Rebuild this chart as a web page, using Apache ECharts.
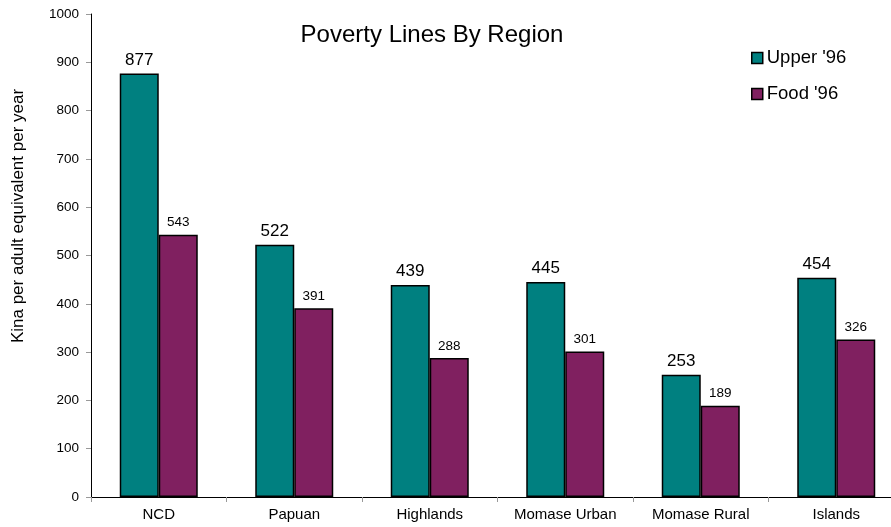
<!DOCTYPE html>
<html>
<head>
<meta charset="utf-8">
<script src="https://cdn.jsdelivr.net/npm/echarts@6/dist/echarts.min.js"></script>
<style>
  html, body { margin: 0; padding: 0; background: #fff; overflow: hidden; }
  #chart { width: 912px; height: 527px; }
</style>
</head>
<body>
<div id="chart"></div>
<script>
// Poverty lines per region (Kina per adult equivalent per year)
const regions = ['NCD', 'Papuan', 'Highlands', 'Momase Urban', 'Momase Rural', 'Islands'];
const upper96 = [877, 522, 439, 445, 253, 454];
const food96 = [543, 391, 288, 301, 189, 326];
const yTicks = { min: 0, max: 1000, step: 100 };

const FONT = 'Liberation Sans, Arial, sans-serif';
const chart = echarts.init(document.getElementById('chart'), null, { renderer: 'canvas' });

chart.setOption({
  animation: false,
  backgroundColor: '#ffffff',
  textStyle: { fontFamily: FONT },
  title: {
    text: 'Poverty Lines By Region',
    left: 427, top: 18, textAlign: 'center',
    textStyle: { fontFamily: FONT, fontSize: 24, fontWeight: 'normal', color: '#000' }
  },
  legend: {
    orient: 'vertical',
    left: 746, top: 42,
    itemWidth: 11, itemHeight: 11, itemGap: 14,
    icon: 'rect',
    itemStyle: { borderColor: '#000', borderWidth: 1.5 },
    textStyle: { fontFamily: FONT, fontSize: 18.5, lineHeight: 22, color: '#000', padding: [0, 0, 0, -1] },
    data: ["Upper '96", "Food '96"]
  },
  graphic: [{
    type: 'text',
    x: 18, y: 216,
    rotation: Math.PI / 2,
    style: {
      text: 'Kina per adult equivalent per year',
      font: '17px ' + FONT,
      fill: '#000',
      align: 'center',
      verticalAlign: 'middle'
    }
  }],
  grid: { left: 91, top: 14, width: 813, height: 483, containLabel: false },
  xAxis: {
    type: 'category',
    data: regions,
    axisLine: { lineStyle: { color: '#000', width: 1 } },
    axisTick: { show: true, alignWithLabel: false, length: 5, lineStyle: { color: '#999' } },
    axisLabel: { fontFamily: FONT, fontSize: 15, color: '#000', margin: 10, interval: 0 }
  },
  yAxis: {
    type: 'value',
    min: yTicks.min, max: yTicks.max, interval: yTicks.step,
    axisLine: { show: true, lineStyle: { color: '#000', width: 1 } },
    axisTick: { show: true, length: 5, lineStyle: { color: '#999' } },
    axisLabel: { fontFamily: FONT, fontSize: 13.5, color: '#000', margin: 12, formatter: v => String(v) },
    splitLine: { show: false }
  },
  series: [
    {
      name: "Upper '96",
      type: 'bar',
      data: upper96,
      barWidth: 39,
      barGap: '0%',
      itemStyle: { color: '#008080', borderColor: '#000', borderWidth: 1.5 },
      label: { show: true, position: 'top', distance: 5, fontFamily: FONT, fontSize: 17, color: '#000' }
    },
    {
      name: "Food '96",
      type: 'bar',
      data: food96,
      barWidth: 39,
      itemStyle: { color: '#802060', borderColor: '#000', borderWidth: 1.5 },
      label: { show: true, position: 'top', distance: 5, fontFamily: FONT, fontSize: 13.5, color: '#000' }
    }
  ]
});
</script>
</body>
</html>
